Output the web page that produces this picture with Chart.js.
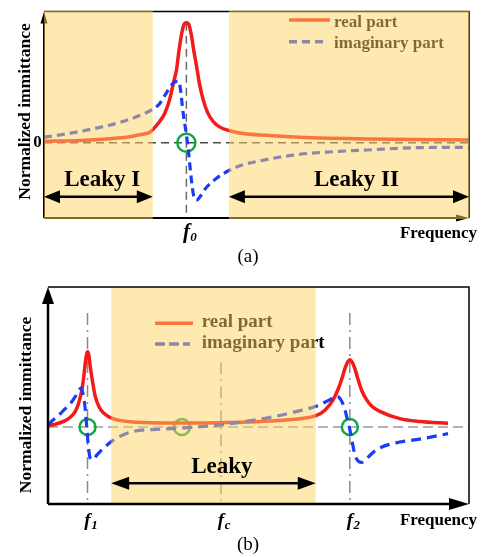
<!DOCTYPE html>
<html>
<head>
<meta charset="utf-8">
<script src="https://cdn.jsdelivr.net/npm/chart.js@4.4.1/dist/chart.umd.min.js"></script>
<style>
  html, body { margin: 0; padding: 0; background: #fff; }
  body { width: 481px; height: 557px; position: relative; overflow: hidden; }
  canvas { position: absolute; left: 0; }
  #chartA { top: 0; }
  #chartB { top: 270px; }
</style>
</head>
<body>
<canvas id="chartA" width="481" height="270"></canvas>
<canvas id="chartB" width="481" height="287"></canvas>
<script>
// ---- (a) single resonance at f0 ----
const freqRealA = [0, 8.4, 15.5, 20.2, 22.5, 24.9, 27.2, 28.4, 29.6, 30.5, 31.2, 31.7, 32.3, 32.9, 33.5, 34.1, 34.7, 35.2, 35.9, 36.6, 37.4, 38.5, 39.8, 41.3, 43.7, 47.2, 52.3, 60.2, 75.9, 100];
const realA = [0.014, 0.020, 0.034, 0.050, 0.066, 0.087, 0.175, 0.240, 0.361, 0.499, 0.604, 0.741, 0.879, 0.968, 0.985, 0.968, 0.879, 0.766, 0.628, 0.482, 0.361, 0.248, 0.175, 0.131, 0.099, 0.074, 0.062, 0.046, 0.032, 0.024];
const freqImagA = [0, 6.05, 13.1, 17.8, 21.3, 25.6, 27.2, 28.8, 30.0, 31.2, 31.7, 32.0, 32.7, 33.5, 33.9, 34.7, 35.2, 35.9, 36.6, 38.2, 40.2, 42.1, 46.1, 50.8, 60.2, 67.9, 75.9, 87.6, 100];
const imagA = [0.046, 0.078, 0.127, 0.167, 0.208, 0.276, 0.321, 0.410, 0.475, 0.504, 0.503, 0.466, 0.256, 0.068, -0.040, -0.310, -0.431, -0.471, -0.447, -0.366, -0.302, -0.255, -0.188, -0.148, -0.094, -0.073, -0.059, -0.040, -0.037];
const markersA = [33.5];
const markerSubsA = ['0'];
const zeroCrossA = [33.5];
const leakyBandsA = [[0, 25.6], [43.5, 100]];
const leakyTextA = ['Leaky I', 'Leaky II'];
const leakyTextFreqA = [13.7, 73.5];

// ---- (b) two resonances f1, f2 around the centre frequency fc ----
const freqRealB = [0, 1.73, 3.70, 5.29, 6.48, 7.31, 8.06, 8.49, 8.85, 9.16, 9.39, 9.68, 10.03, 10.63, 11.22, 12.17, 13.19, 15.56, 19.52, 26.64, 36.12, 45.61, 52.73, 59.84, 63.64, 65.77, 67.74, 68.86, 69.73, 70.52, 71.23, 71.70, 72.18, 72.89, 73.67, 74.55, 75.66, 76.92, 78.82, 83.56, 88.31, 95.02];
const realB = [0.017, 0.036, 0.073, 0.127, 0.203, 0.316, 0.484, 0.653, 0.829, 0.939, 0.978, 0.939, 0.787, 0.575, 0.397, 0.257, 0.182, 0.104, 0.069, 0.053, 0.052, 0.062, 0.078, 0.108, 0.147, 0.218, 0.355, 0.484, 0.614, 0.757, 0.848, 0.874, 0.848, 0.757, 0.614, 0.471, 0.355, 0.270, 0.203, 0.108, 0.071, 0.049];
const freqImagB = [0, 1.02, 2.13, 3.63, 5.29, 6.48, 7.42, 7.83, 8.25, 8.73, 9.16, 9.44, 9.68, 10.03, 10.51, 11.69, 13.19, 16.37, 20.30, 26.64, 31.78, 41.11, 51.94, 59.84, 63.64, 66.96, 68.55, 69.09, 69.81, 70.52, 71.11, 71.70, 72.30, 72.89, 73.60, 74.48, 75.50, 78.04, 83.56, 87.52, 95.02];
const imagB = [0.017, 0.082, 0.130, 0.212, 0.303, 0.394, 0.484, 0.506, 0.445, 0.290, 0.030, -0.165, -0.295, -0.405, -0.425, -0.360, -0.273, -0.143, -0.057, -0.029, -0.013, 0.030, 0.117, 0.212, 0.268, 0.355, 0.397, 0.387, 0.329, 0.225, 0.095, -0.035, -0.204, -0.360, -0.438, -0.460, -0.418, -0.295, -0.195, -0.165, -0.087];
const markersB = [9.39, 41.1, 71.7];
const markerSubsB = ['1', 'c', '2'];
const guideTopB = [1.48, 0.84, 1.48];
const zeroCrossB = [9.39, 31.8, 71.7];
const leakyBandsB = [[15.0, 63.6]];
const leakyTextB = ['Leaky'];
const leakyTextFreqB = [41.3];

const SERIF = '"Liberation Serif", "Times New Roman", serif';
const RED = '#f41a1a';
const BLUE = '#1c3cf2';
const GREEN = '#12a64c';
const SHADE = 'rgba(254, 212, 100, 0.5)';

const pts = (xs, ys) => xs.map((x, i) => ({ x: x, y: ys[i] }));

function tri(ctx, tx, ty, ux, uy, len, half) {
  const bx = tx - ux * len, by = ty - uy * len;
  ctx.beginPath();
  ctx.moveTo(tx, ty);
  ctx.lineTo(bx - uy * half, by + ux * half);
  ctx.lineTo(bx + uy * half, by - ux * half);
  ctx.closePath();
  ctx.fill();
}

function spanArrow(ctx, x1, x2, yy, len, half, lw) {
  ctx.save();
  ctx.strokeStyle = '#000';
  ctx.fillStyle = '#000';
  ctx.lineWidth = lw;
  ctx.beginPath();
  ctx.moveTo(x1 + len * 0.6, yy);
  ctx.lineTo(x2 - len * 0.6, yy);
  ctx.stroke();
  tri(ctx, x1, yy, -1, 0, len, half);
  tri(ctx, x2, yy, 1, 0, len, half);
  ctx.restore();
}

function frame(ctx, a, o) {
  ctx.save();
  ctx.strokeStyle = '#000';
  ctx.fillStyle = '#000';
  ctx.lineWidth = o.thin;
  ctx.beginPath();
  ctx.moveTo(a.left, a.top);
  ctx.lineTo(a.right, a.top);
  ctx.lineTo(a.right, a.bottom);
  ctx.stroke();
  ctx.lineWidth = o.thick;
  ctx.beginPath();
  ctx.moveTo(a.left, a.bottom);
  ctx.lineTo(a.left, a.top + o.vLen * 0.5);
  ctx.stroke();
  ctx.beginPath();
  ctx.moveTo(a.left, a.bottom);
  ctx.lineTo(a.right - o.hLen * 0.5, a.bottom);
  ctx.stroke();
  tri(ctx, a.left, a.top, 0, -1, o.vLen, o.vHalf);
  tri(ctx, a.right, a.bottom, 1, 0, o.hLen, o.hHalf);
  ctx.restore();
}

function subLabel(ctx, cx, base, main, sub, size, subSize) {
  ctx.save();
  ctx.fillStyle = '#000';
  ctx.textBaseline = 'alphabetic';
  ctx.textAlign = 'center';
  ctx.font = 'bold italic ' + size + 'px ' + SERIF;
  const w = ctx.measureText(main).width;
  ctx.fillText(main, cx, base);
  ctx.textAlign = 'left';
  ctx.font = 'bold italic ' + subSize + 'px ' + SERIF;
  ctx.fillText(sub, cx + w * 0.5 + 0.5, base + 3.5);
  ctx.restore();
}

function legend(ctx, o) {
  ctx.save();
  ctx.lineCap = 'butt';
  ctx.strokeStyle = RED;
  ctx.lineWidth = 3.5;
  ctx.beginPath();
  ctx.moveTo(o.x1, o.y1);
  ctx.lineTo(o.x2, o.y1);
  ctx.stroke();
  ctx.strokeStyle = BLUE;
  ctx.lineWidth = 3.5;
  ctx.setLineDash(o.dash);
  ctx.beginPath();
  ctx.moveTo(o.x1, o.y2);
  ctx.lineTo(o.x2 - 3, o.y2);
  ctx.stroke();
  ctx.setLineDash([]);
  ctx.fillStyle = '#000';
  ctx.font = 'bold ' + o.size + 'px ' + SERIF;
  ctx.textAlign = 'left';
  ctx.textBaseline = 'alphabetic';
  ctx.fillText('real part', o.tx, o.b1);
  ctx.fillText('imaginary part', o.tx, o.b2);
  ctx.restore();
}

function makeDecor(c) {
  return {
    id: 'decor',
    beforeDatasetsDraw(chart) {
      const { ctx, chartArea: a, scales: { x, y } } = chart;
      const y0 = y.getPixelForValue(0);
      ctx.save();
      ctx.lineWidth = 1.5;
      ctx.strokeStyle = c.zeroColor;
      ctx.setLineDash(c.zeroDash);
      ctx.beginPath();
      ctx.moveTo(a.left, y0);
      ctx.lineTo(a.right, y0);
      ctx.stroke();
      ctx.strokeStyle = c.guideColor;
      ctx.setLineDash(c.guideDash);
      c.guides.forEach((f, i) => {
        const px = x.getPixelForValue(f);
        ctx.beginPath();
        ctx.moveTo(px, y.getPixelForValue(c.guideTop[i]));
        ctx.lineTo(px, a.bottom);
        ctx.stroke();
      });
      ctx.restore();
    },
    afterDatasetsDraw(chart) {
      const { ctx, chartArea: a, scales: { x, y } } = chart;
      legend(ctx, c.legend);
      if (!c.frameOnTop) frame(ctx, a, c.frame);
      // shaded leaky bands
      ctx.save();
      ctx.fillStyle = SHADE;
      c.bands.forEach(([f1, f2]) => {
        const l = x.getPixelForValue(f1), r = x.getPixelForValue(f2);
        ctx.fillRect(l, a.top - c.bandGrowTop, r - l, a.bottom - a.top + c.bandGrowTop + c.bandGrowBottom);
      });
      ctx.restore();
      if (c.frameOnTop) frame(ctx, a, c.frame);
      // leaky ranges
      c.bands.forEach(([f1, f2], i) => {
        spanArrow(ctx, x.getPixelForValue(f1), x.getPixelForValue(f2), c.arrowY, c.arrowLen, c.arrowHalf, 2.5);
        ctx.save();
        ctx.fillStyle = '#000';
        ctx.font = 'bold ' + c.leakySize + 'px ' + SERIF;
        ctx.textAlign = 'center';
        ctx.textBaseline = 'alphabetic';
        ctx.fillText(c.leakyText[i], x.getPixelForValue(c.leakyFreq[i]), c.leakyBase);
        ctx.restore();
      });
    },
    afterDraw(chart) {
      const { ctx, chartArea: a, scales: { x, y } } = chart;
      ctx.save();
      ctx.fillStyle = '#000';
      // axis titles
      ctx.font = 'bold 17.5px ' + SERIF;
      ctx.save();
      ctx.translate(c.yTitle[0], c.yTitle[1]);
      ctx.rotate(-Math.PI / 2);
      ctx.textAlign = 'center';
      ctx.textBaseline = 'middle';
      ctx.fillText('Normalized immittance', 0, 0);
      ctx.restore();
      ctx.font = 'bold 17px ' + SERIF;
      ctx.textAlign = 'right';
      ctx.textBaseline = 'alphabetic';
      ctx.fillText('Frequency', 477, c.freqBase);
      if (c.zeroLabel) {
        ctx.textAlign = 'center';
        ctx.textBaseline = 'middle';
        ctx.fillText('0', 37.5, y.getPixelForValue(0));
      }
      // caption
      ctx.font = '19px ' + SERIF;
      ctx.textAlign = 'center';
      ctx.textBaseline = 'alphabetic';
      ctx.fillText(c.caption, 248, c.captionBase);
      ctx.restore();
      c.guides.forEach((f, i) => {
        subLabel(ctx, x.getPixelForValue(f), c.tickBase, 'f', c.subs[i], c.tickSize, c.subSize);
      });
    }
  };
}

function makeChart(id, d) {
  return new Chart(document.getElementById(id), {
    type: 'line',
    data: {
      datasets: [
        {
          type: 'scatter',
          data: d.circles.map(f => ({ x: f, y: 0 })),
          pointRadius: d.circleR,
          pointBorderWidth: 2.5,
          pointBorderColor: GREEN,
          pointBackgroundColor: 'rgba(0,0,0,0)',
          order: 3
        },
        {
          data: pts(d.fr, d.re),
          borderColor: RED,
          borderWidth: 3.5,
          cubicInterpolationMode: 'monotone',
          pointRadius: 0,
          fill: false,
          order: 2
        },
        {
          data: pts(d.fi, d.im),
          borderColor: BLUE,
          borderWidth: 3.2,
          borderDash: d.imagDash,
          cubicInterpolationMode: 'monotone',
          pointRadius: 0,
          fill: false,
          order: 1
        }
      ]
    },
    options: {
      responsive: false,
      animation: false,
      devicePixelRatio: 1,
      layout: { padding: d.padding },
      plugins: { legend: { display: false }, tooltip: { enabled: false } },
      scales: {
        x: { type: 'linear', min: 0, max: 100, display: false },
        y: { min: d.yMin, max: d.yMax, display: false }
      }
    },
    plugins: [makeDecor(d.decor)]
  });
}

makeChart('chartA', {
  fr: freqRealA, re: realA, fi: freqImagA, im: imagA,
  circles: zeroCrossA, circleR: 9,
  imagDash: [8, 5],
  padding: { left: 44, right: 12, top: 8, bottom: 52 },
  yMin: -0.617, yMax: 1.078,
  decor: {
    zeroColor: '#4a4a4a', zeroDash: [8, 5],
    guideColor: '#6a6a6a', guideDash: [8, 5],
    guides: markersA, guideTop: [0.985], subs: markerSubsA,
    bands: leakyBandsA, bandGrowTop: 1, bandGrowBottom: 1, frameOnTop: false,
    frame: { thin: 1.5, thick: 2, vLen: 12, vHalf: 3.5, hLen: 13, hHalf: 3.5 },
    legend: { x1: 289, x2: 330, y1: 20, y2: 41.7, dash: [8, 5], tx: 334, b1: 26.5, b2: 48, size: 17 },
    arrowY: 196.7, arrowLen: 16, arrowHalf: 6.5,
    leakyText: leakyTextA, leakyFreq: leakyTextFreqA, leakyBase: 186, leakySize: 23,
    yTitle: [25, 111.5], freqBase: 237.5, zeroLabel: true,
    caption: '(a)', captionBase: 262,
    tickBase: 237.5, tickSize: 21, subSize: 13
  }
});

makeChart('chartB', {
  fr: freqRealB, re: realB, fi: freqImagB, im: imagB,
  circles: zeroCrossB, circleR: 8,
  imagDash: [10, 6],
  padding: { left: 48, right: 12, top: 17, bottom: 53 },
  yMin: -1.0, yMax: 1.818,
  decor: {
    zeroColor: '#9a9a9a', zeroDash: [10, 5],
    guideColor: '#8a8a8a', guideDash: [12, 5, 2, 5],
    guides: markersB, guideTop: guideTopB, subs: markerSubsB,
    bands: leakyBandsB, bandGrowTop: -1, bandGrowBottom: -1, frameOnTop: true,
    frame: { thin: 1.5, thick: 2.5, vLen: 17, vHalf: 6, hLen: 20, hHalf: 6 },
    legend: { x1: 155, x2: 193, y1: 53.3, y2: 74, dash: [10, 4], tx: 201.7, b1: 57.3, b2: 78.3, size: 19 },
    arrowY: 213.3, arrowLen: 18, arrowHalf: 6.5,
    leakyText: leakyTextB, leakyFreq: leakyTextFreqB, leakyBase: 203.3, leakySize: 23,
    yTitle: [26.7, 135], freqBase: 255, zeroLabel: false,
    caption: '(b)', captionBase: 280,
    tickBase: 255.5, tickSize: 19, subSize: 13
  }
});
</script>
</body>
</html>
